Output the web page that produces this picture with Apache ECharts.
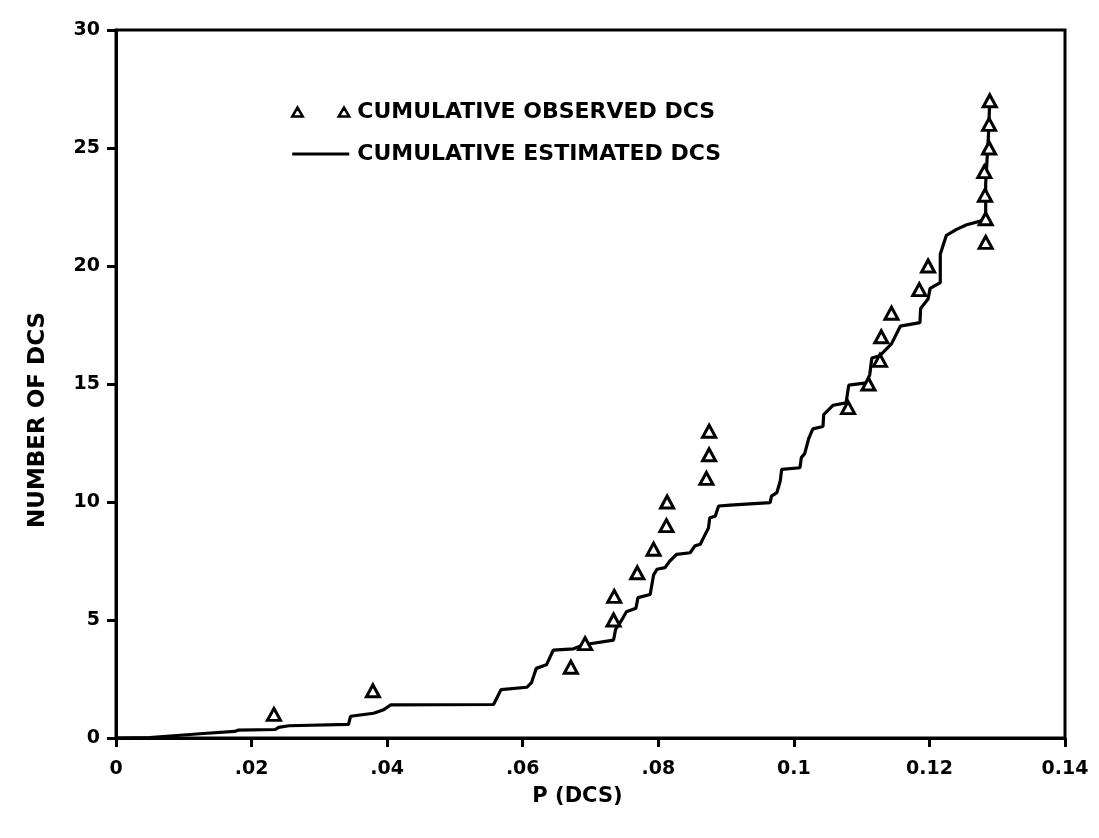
<!DOCTYPE html>
<html>
<head>
<meta charset="utf-8">
<script src="https://cdn.jsdelivr.net/npm/echarts@6/dist/echarts.min.js"></script>
<style>
html,body{margin:0;padding:0;background:#fff;}
#chart{width:1099px;height:838px;}
</style>
</head>
<body>
<div id="chart"></div>
<script>
// Observed cumulative DCS: P value and count
var observedP = [0.0233, 0.0379, 0.0671, 0.0692, 0.0734, 0.0735, 0.0769, 0.0793, 0.0812, 0.0813,
                 0.0871, 0.0875, 0.0875, 0.1080, 0.1110, 0.1127, 0.1129, 0.1144, 0.1185, 0.1198,
                 0.1283, 0.1283, 0.1282, 0.1281, 0.1288, 0.1288, 0.1289];
var observedN = [1, 2, 3, 4, 5, 6, 7, 8, 9, 10, 11, 12, 13, 14, 15, 16, 17, 18, 19, 20,
                 21, 22, 23, 24, 25, 26, 27];

// Estimated cumulative DCS (traced step curve)
var estimatedP = [0, 0.005, 0.0124, 0.0175, 0.018, 0.0235, 0.024, 0.0255, 0.0343, 0.0346,
                  0.038, 0.0395, 0.0405, 0.0557, 0.0568, 0.0606, 0.0613, 0.062, 0.0635, 0.0645,
                  0.0675, 0.069, 0.0734, 0.0737, 0.0745, 0.0753, 0.0767, 0.077, 0.0788, 0.0793,
                  0.0798, 0.081, 0.0817, 0.0827, 0.0847, 0.0854, 0.0862, 0.0867, 0.0874, 0.0876,
                  0.0884, 0.0889, 0.0906, 0.0965, 0.0967, 0.0975, 0.098, 0.0982, 0.1009, 0.1011,
                  0.1016, 0.1022, 0.1028, 0.1043, 0.1044, 0.1058, 0.1077, 0.1081, 0.1107, 0.1112,
                  0.1115, 0.1127, 0.1144, 0.1157, 0.1186, 0.1187, 0.1198, 0.1201, 0.1216, 0.1216,
                  0.1225, 0.124, 0.1255, 0.1275, 0.1283, 0.1283, 0.1287, 0.1289];
var estimatedN = [0, 0.02, 0.18, 0.28, 0.33, 0.36, 0.45, 0.52, 0.58, 0.92,
                  1.05, 1.2, 1.4, 1.42, 2.05, 2.15, 2.35, 2.95, 3.1, 3.72,
                  3.78, 3.95, 4.15, 4.6, 4.95, 5.35, 5.5, 5.95, 6.08, 6.9,
                  7.15, 7.22, 7.5, 7.78, 7.85, 8.14, 8.21, 8.5, 8.9, 9.33,
                  9.4, 9.83, 9.87, 9.97, 10.25, 10.4, 10.9, 11.38, 11.45, 11.88,
                  12.05, 12.7, 13.1, 13.2, 13.7, 14.1, 14.2, 14.95, 15.05, 15.4,
                  16.1, 16.2, 16.7, 17.45, 17.6, 18.2, 18.6, 19.05, 19.3, 20.5,
                  21.3, 21.55, 21.75, 21.9, 22.05, 23.5, 25.5, 27];

var xTickLabels = ['0', '.02', '.04', '.06', '.08', '0.1', '0.12', '0.14'];
var yTickLabels = ['0', '5', '10', '15', '20', '25', '30'];

var seriesNames = ['CUMULATIVE OBSERVED DCS', 'CUMULATIVE ESTIMATED DCS'];
var axisTitles = { x: 'P (DCS)', y: 'NUMBER OF DCS' };

var observedData = observedP.map(function (p, i) { return [p, observedN[i]]; });
var estimatedData = estimatedP.map(function (p, i) { return [p, estimatedN[i]]; });

var FONT = 'DejaVu Sans';
var chart = echarts.init(document.getElementById('chart'), null, { renderer: 'canvas' });

chart.setOption({
  backgroundColor: '#ffffff',
  animation: false,
  grid: {
    left: 116, right: 34, top: 30, bottom: 100,
    show: true, borderColor: '#000', borderWidth: 3, backgroundColor: 'transparent'
  },
  legend: {
    orient: 'vertical',
    left: 286, top: 96,
    itemWidth: 57, itemHeight: 10,
    itemGap: 20,
    textStyle: { fontFamily: FONT, fontWeight: 'bold', fontSize: 22, color: '#000', padding: [0, 0, 0, 3] },
    data: [
      { name: seriesNames[0], icon: 'path://M0,9 L5.25,0 L10.5,9 Z M46.5,9 L51.75,0 L57,9 Z',
        itemStyle: { color: '#fff', borderColor: '#000', borderWidth: 2.5 } },
      { name: seriesNames[1], icon: 'path://M0,0 L57,0 L57,3 L0,3 Z' }
    ]
  },
  xAxis: {
    type: 'value',
    min: 0, max: 0.14, interval: 0.02,
    name: axisTitles.x,
    nameLocation: 'middle',
    nameGap: 48,
    nameTextStyle: { fontFamily: FONT, fontWeight: 'bold', fontSize: 21, color: '#000', padding: [0, 26, 0, 0] },
    axisLine: { show: true, lineStyle: { color: '#000', width: 3 } },
    axisTick: { show: true, inside: false, length: 9, lineStyle: { color: '#000', width: 3 } },
    axisLabel: {
      margin: 22,
      fontFamily: FONT, fontWeight: 'bold', fontSize: 19, color: '#000',
      formatter: function (v) { return xTickLabels[Math.round(v / 0.02)]; }
    },
    splitLine: { show: false }
  },
  yAxis: {
    type: 'value',
    min: 0, max: 30, interval: 5,
    name: axisTitles.y,
    nameLocation: 'middle',
    nameRotate: 90,
    nameGap: 66,
    nameTextStyle: { fontFamily: FONT, fontWeight: 'bold', fontSize: 23, color: '#000', padding: [0, 72, 0, 0] },
    axisLine: { show: true, lineStyle: { color: '#000', width: 3 } },
    axisTick: { show: true, inside: false, length: 9, lineStyle: { color: '#000', width: 3 } },
    axisLabel: {
      margin: 16,
      fontFamily: FONT, fontWeight: 'bold', fontSize: 19, color: '#000',
      formatter: function (v) { return yTickLabels[Math.round(v / 5)]; }
    },
    splitLine: { show: false }
  },
  series: [
    {
      name: seriesNames[1],
      type: 'line',
      data: estimatedData,
      showSymbol: false,
      symbol: 'none',
      lineStyle: { color: '#000', width: 3.2 },
      itemStyle: { color: '#000' },
      z: 2
    },
    {
      name: seriesNames[0],
      type: 'scatter',
      data: observedData,
      symbol: 'triangle',
      symbolSize: [13, 12],
      itemStyle: { color: '#fff', borderColor: '#000', borderWidth: 3, opacity: 1 },
      z: 3
    }
  ]
});
</script>
</body>
</html>
